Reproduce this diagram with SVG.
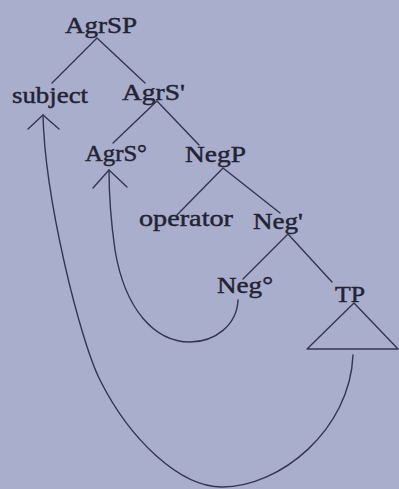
<svg xmlns="http://www.w3.org/2000/svg" width="399" height="489" viewBox="0 0 399 489">
<style>
.bg{fill:#a9aecd}
text{font-family:"Liberation Serif","Times New Roman",serif;font-size:23px;fill:#232334;stroke:#232334;stroke-width:0.45}
.ln{stroke:#33364e;stroke-width:1.4;fill:none;stroke-linecap:round;stroke-linejoin:round}
</style>
<rect class="bg" x="0" y="0" width="399" height="489"/>
<g id="AgrSP"><text x="65" y="33" textLength="72" lengthAdjust="spacingAndGlyphs">AgrSP</text></g>
<g id="subject"><text x="12" y="103" textLength="76" lengthAdjust="spacingAndGlyphs">subject</text></g>
<g id="AgrS-bar"><text x="122" y="100" textLength="63" lengthAdjust="spacingAndGlyphs">AgrS'</text></g>
<g id="AgrS-head"><text x="85" y="161" textLength="62" lengthAdjust="spacingAndGlyphs">AgrS°</text></g>
<g id="NegP"><text x="185" y="162" textLength="61" lengthAdjust="spacingAndGlyphs">NegP</text></g>
<g id="operator"><text x="139" y="226" textLength="94" lengthAdjust="spacingAndGlyphs">operator</text></g>
<g id="Neg-bar"><text x="253" y="229" textLength="50" lengthAdjust="spacingAndGlyphs">Neg'</text></g>
<g id="Neg-head"><text x="217" y="293" textLength="56" lengthAdjust="spacingAndGlyphs">Neg°</text></g>
<g id="TP"><text x="335" y="302" textLength="30" lengthAdjust="spacingAndGlyphs">TP</text>
<polygon class="ln" points="354,303 307,349 398,349"/></g>
<g id="connectors">
<path class="ln" d="M97,38 L52,83 M97,38 L145,83"/>
<path class="ln" d="M157,101 L113,143 M157,101 L199,145"/>
<path class="ln" d="M223,168 L177,215 M223,168 L280,213"/>
<path class="ln" d="M288,234 L243,279 M288,234 L332,282"/>
<path class="ln" d="M353,355 C350,430 280,487 222,487 C180,487 130,440 100,380 C80,340 45,200 43,115"/>
<path class="ln" d="M28,129 L43,115 L59,129"/>
<path class="ln" d="M238,300 C237,325 215,342 190,342 C155,342 125,310 115,250 C110,215 109,190 109,170"/>
<path class="ln" d="M93,188 L109,170 L127,187"/>
</g>
</svg>
